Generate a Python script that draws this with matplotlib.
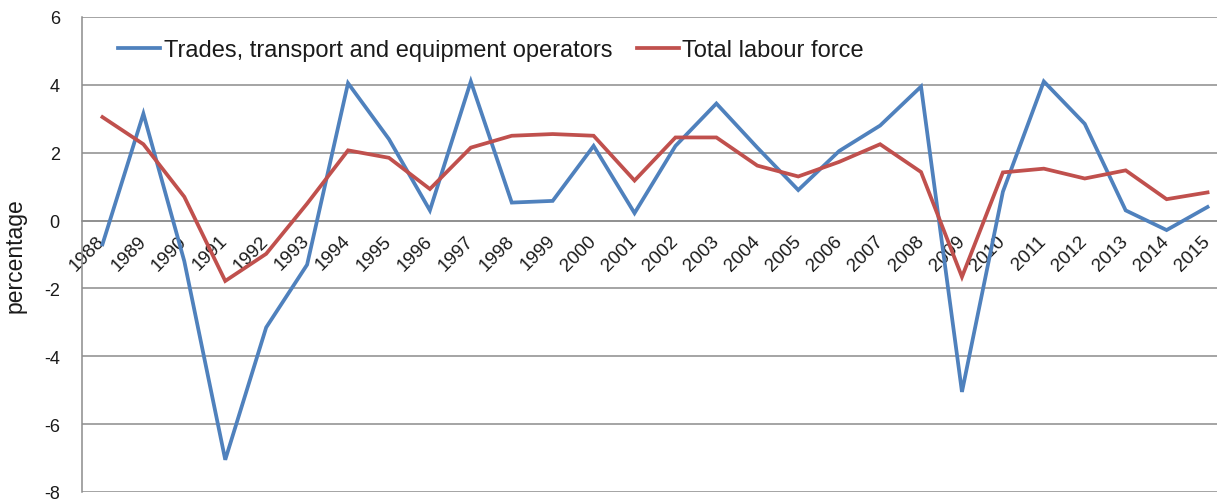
import numpy as np
import matplotlib
matplotlib.use("Agg")
import matplotlib.pyplot as plt

plt.rcParams['font.family'] = ['Liberation Sans', 'DejaVu Sans']

# annual change, percent
years = [str(y) for y in range(1988, 2016)]
trades = [-0.7, 3.15, -1.2, -7.05, -3.15, -1.3, 4.05, 2.4, 0.3, 4.1,
          0.53, 0.58, 2.2, 0.22, 2.2, 3.45, 2.15, 0.9, 2.05, 2.8,
          3.95, -5.05, 0.85, 4.1, 2.85, 0.3, -0.28, 0.4]
total = [3.05, 2.25, 0.7, -1.78, -0.98, 0.5, 2.07, 1.85, 0.93, 2.15,
         2.5, 2.55, 2.5, 1.18, 2.45, 2.45, 1.62, 1.3, 1.73, 2.25,
         1.43, -1.66, 1.42, 1.53, 1.24, 1.48, 0.63, 0.83]
yticks = [-8, -6, -4, -2, 0, 2, 4, 6]

BLUE = '#4f81bd'
RED = '#c0504d'
GRID = '#8c8c8c'
TXT = '#1a1a1a'

fig = plt.figure(figsize=(12.17, 5.02), dpi=100)
ax = fig.add_axes([82/1217, 1 - 493/502, 1146/1217, 475/502])

# spines first: set_position resets the ticks
for s in ['top', 'right']:
    ax.spines[s].set_visible(False)
ax.spines['bottom'].set_position(('data', 0))
ax.spines['bottom'].set_color(GRID)
ax.spines['bottom'].set_linewidth(1.1)
ax.spines['left'].set_color(GRID)
ax.spines['left'].set_linewidth(1.1)

x = np.arange(len(years))
ax.plot(x, trades, color=BLUE, lw=2.7, label='Trades, transport and equipment operators',
        solid_joinstyle='miter', zorder=3)
ax.plot(x, total, color=RED, lw=2.7, label='Total labour force',
        solid_joinstyle='miter', zorder=3)

ax.set_xlim(-0.5, len(years) - 0.5)
ax.set_ylim(-8, 6)

ax.tick_params(axis='y', length=0, pad=16)
ax.tick_params(axis='x', length=0, pad=12.5)
ax.set_yticks(yticks)
ax.set_yticklabels([str(v) for v in yticks], fontsize=13, color=TXT)
ax.set_xticks(x)
ax.set_xticklabels(years, fontsize=13.5, color=TXT, rotation=45,
                   rotation_mode='anchor', ha='right', va='center')

ax.grid(axis='y', color=GRID, lw=1.1)
ax.set_axisbelow(True)

ax.set_ylabel('percentage', fontsize=16.5, color=TXT)
ax.yaxis.set_label_coords(-0.048, 0.5)

ax.legend(loc='center left', bbox_to_anchor=(0.0314, 0.9305), ncol=2, frameon=False,
          fontsize=17, handlelength=1.78, handletextpad=0.15, columnspacing=1.05,
          borderpad=0, borderaxespad=0, labelcolor=TXT)

fig.savefig('out.png', dpi=100)
